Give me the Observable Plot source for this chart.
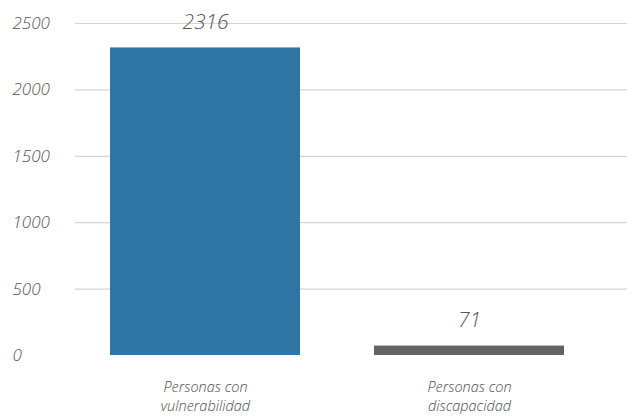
<!DOCTYPE html>
<html>
<head>
<meta charset="utf-8">
<script src="https://cdn.jsdelivr.net/npm/d3@7"></script>
<script src="https://cdn.jsdelivr.net/npm/@observablehq/plot@0.6"></script>
<style>
  html, body { margin: 0; padding: 0; background: #fff; }
  #chart svg { display: block; }
</style>
</head>
<body>
<div id="chart"></div>
<script>
const categories = ["Personas con\nvulnerabilidad", "Personas con\ndiscapacidad"];
const values = [2316, 71];
const barColors = ["#2e76a3", "#636363"];
const yTicks = [0, 500, 1000, 1500, 2000, 2500];

const data = categories.map((c, i) => ({category: c, value: values[i], color: barColors[i]}));

const font = "'Open Sans', Lato, sans-serif";

const chart = Plot.plot({
  width: 627,
  height: 418,
  marginLeft: 75,
  marginRight: 0,
  marginTop: 23,
  marginBottom: 63,
  style: {fontFamily: font, background: "#fff"},
  x: {domain: categories, range: [73, 601], paddingInner: 0.28, paddingOuter: 0.14},
  y: {domain: [0, 2500]},
  marks: [
    Plot.ruleY(yTicks.filter(d => d > 0), {stroke: "#d4d4d4", strokeWidth: 1.2}),
    Plot.barY(data, {x: "category", y: "value", fill: "color"}),
    Plot.ruleY([0], {stroke: "#858585", strokeWidth: 1.6, x1: 74, x2: 627}),
    Plot.text(data, {
      x: "category", y: "value", text: d => String(d.value),
      dy: -26, fontSize: 21, fontStyle: "italic", fontWeight: 300, fill: "#555", lineAnchor: "middle"
    }),
    Plot.axisY({
      ticks: yTicks, tickFormat: d => String(d), tickSize: 0, tickPadding: 0, textAnchor: "start", dx: -63,
      fontSize: 17, fontStyle: "italic", fontWeight: 300, fill: "#555", label: null
    }),
    Plot.axisX({
      tickSize: 0, tickPadding: 22, fontSize: 14.5, fontStyle: "italic", fontWeight: 300,
      fill: "#4d4d4d", lineHeight: 1.36, label: null
    })
  ]
});

document.getElementById("chart").appendChild(chart);
</script>
</body>
</html>
